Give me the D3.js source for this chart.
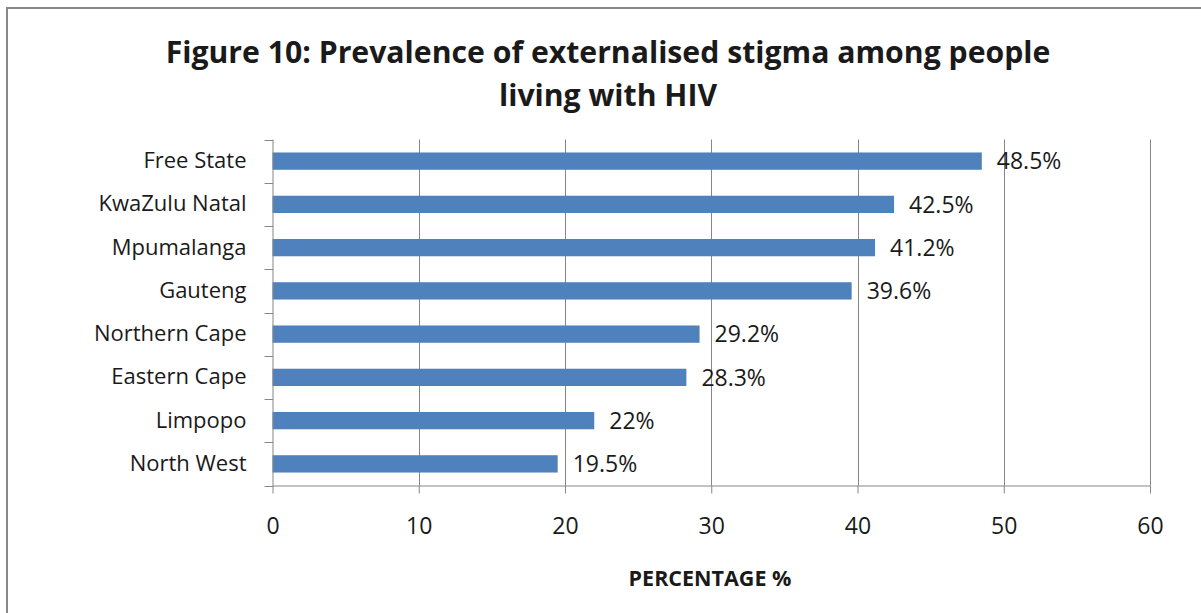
<!DOCTYPE html>
<html>
<head>
<meta charset="utf-8">
<script src="https://cdn.jsdelivr.net/npm/d3@7"></script>
<style>
  html, body { margin: 0; padding: 0; background: #fff; }
  svg { display: block; }
  text { font-family: "Open Sans", "Liberation Sans", sans-serif; fill: #1a1a1a; }
</style>
</head>
<body>
<svg id="chart" width="1201" height="613"></svg>
<script>
// Provinces, top to bottom, with the share of people living with HIV reporting externalised stigma
const provinces = ["Free State", "KwaZulu Natal", "Mpumalanga", "Gauteng",
                   "Northern Cape", "Eastern Cape", "Limpopo", "North West"];
const stigmaPct = [48.5, 42.5, 41.2, 39.6, 29.2, 28.3, 22, 19.5];
const valueLabels = ["48.5%", "42.5%", "41.2%", "39.6%", "29.2%", "28.3%", "22%", "19.5%"];
const xTicks = [0, 10, 20, 30, 40, 50, 60];
const titleLines = ["Figure 10: Prevalence of externalised stigma among people", "living with HIV"];
const xAxisTitle = "PERCENTAGE %";

const svg = d3.select("#chart");
const W = 1201, H = 613;

const plot = { left: 272.5, right: 1150, top: 139.5, bottom: 485.5 };
const barColor = "#4f81bd";
const gridColor = "#868686";

// chart frame
svg.append("rect")
  .attr("x", 7).attr("y", 8)
  .attr("width", W + 10).attr("height", H + 10)
  .attr("fill", "#fff")
  .attr("stroke", "#898989").attr("stroke-width", 2);

const rows = provinces.map((p, i) => ({ name: p, value: stigmaPct[i], label: valueLabels[i] }));

const x = d3.scaleLinear().domain([0, 60]).range([plot.left, plot.right]);
const y = d3.scaleBand().domain(provinces).range([plot.top, plot.bottom])
  .paddingInner(0.6).paddingOuter(0.3);

// vertical gridlines
svg.append("g").selectAll("line").data(xTicks.filter(t => t > 0)).join("line")
  .attr("x1", d => Math.round(x(d)) + 0.5).attr("x2", d => Math.round(x(d)) + 0.5)
  .attr("y1", plot.top).attr("y2", plot.bottom)
  .attr("stroke", gridColor).attr("stroke-width", 1);

// bars
svg.append("g").selectAll("rect").data(rows).join("rect")
  .attr("x", x(0))
  .attr("y", d => y(d.name))
  .attr("width", d => x(d.value) - x(0))
  .attr("height", y.bandwidth())
  .attr("fill", barColor);

// x axis
const xAxis = svg.append("g")
  .attr("transform", `translate(0,${plot.bottom})`)
  .call(d3.axisBottom(x).tickValues(xTicks).tickSize(8).tickPadding(24).tickFormat(d3.format("d")));
xAxis.select(".domain").attr("stroke", gridColor).attr("d", `M${x(0)},0.5H${x(60)}`);
xAxis.selectAll(".tick line").attr("stroke", gridColor);
xAxis.selectAll(".tick text").attr("font-size", 23).attr("fill", "#1a1a1a")
  .attr("font-family", "'Open Sans', sans-serif");

// y axis: labels centred on each band, ticks on band boundaries
const yAxis = svg.append("g")
  .attr("transform", `translate(${plot.left},0)`)
  .call(d3.axisLeft(y).tickSize(0).tickPadding(26));
yAxis.select(".domain").attr("stroke", gridColor).attr("d", `M0.5,${plot.top}V${plot.bottom}`);
yAxis.selectAll(".tick text").attr("font-size", 22).attr("fill", "#1a1a1a")
  .attr("font-family", "'Open Sans', sans-serif");

const step = y.step();
const boundaries = d3.range(provinces.length + 1).map(i => plot.top + i * step);
svg.append("g").selectAll("line").data(boundaries).join("line")
  .attr("x1", plot.left - 8).attr("x2", plot.left + 0.5)
  .attr("y1", d => Math.round(d) + 0.5).attr("y2", d => Math.round(d) + 0.5)
  .attr("stroke", gridColor);

// value labels
svg.append("g").selectAll("text").data(rows).join("text")
  .attr("x", d => x(d.value) + 15)
  .attr("y", d => y(d.name) + y.bandwidth() / 2)
  .attr("dy", "0.36em")
  .attr("font-size", 23)
  .text(d => d.label);

// title
svg.append("g").selectAll("text").data(titleLines).join("text")
  .attr("x", 608)
  .attr("y", (d, i) => 63 + i * 43)
  .attr("text-anchor", "middle")
  .attr("font-size", 30.2)
  .attr("font-weight", "bold")
  .text(d => d);

// axis title
svg.append("text")
  .attr("x", 710).attr("y", 586)
  .attr("text-anchor", "middle")
  .attr("font-size", 21.5)
  .attr("font-weight", "bold")
  .text(xAxisTitle);
</script>
</body>
</html>
